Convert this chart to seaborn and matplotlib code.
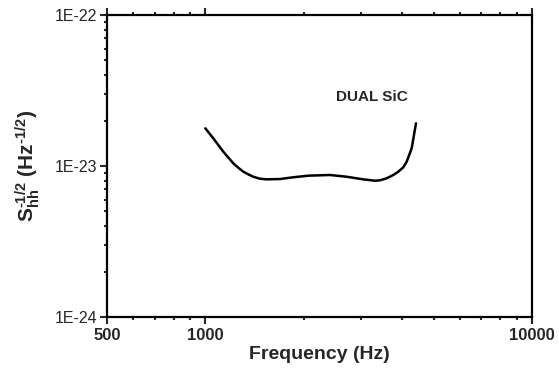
import matplotlib
matplotlib.use("Agg")
import matplotlib.pyplot as plt
import matplotlib.ticker as mticker
import seaborn as sns
import pandas as pd

# values
freq = [1000, 1058, 1135, 1218, 1262, 1307, 1353, 1402, 1470, 1541, 1692,
        1858, 2066, 2408, 2708, 3044, 3306, 3424, 3590, 3761, 3896, 4036,
        4134, 4282, 4352, 4414]
shh = [1.777e-23, 1.525e-23, 1.244e-23, 1.042e-23, 0.974e-23, 0.917e-23,
       0.881e-23, 0.849e-23, 0.824e-23, 0.816e-23, 0.820e-23, 0.842e-23,
       0.863e-23, 0.872e-23, 0.849e-23, 0.816e-23, 0.799e-23, 0.804e-23,
       0.829e-23, 0.872e-23, 0.917e-23, 0.980e-23, 1.068e-23, 1.31e-23,
       1.604e-23, 1.918e-23]
x_major = [500, 1000, 10000]
x_minor = [600, 700, 800, 900, 2000, 3000, 4000, 5000, 6000, 7000, 8000, 9000]
y_major = [1e-24, 1e-23, 1e-22]
y_labels = ["1E-24", "1E-23", "1E-22"]
label_text = "DUAL SiC"

df = pd.DataFrame({"freq": freq, "shh": shh})

sns.set_style("ticks")
plt.rcParams["font.family"] = ["Liberation Sans", "DejaVu Sans"]
plt.rcParams["mathtext.fontset"] = "custom"
plt.rcParams["mathtext.rm"] = "Liberation Sans:bold"
plt.rcParams["mathtext.it"] = "Liberation Sans:italic"
plt.rcParams["mathtext.bf"] = "Liberation Sans:bold"

fig = plt.figure(figsize=(5.59, 3.69), dpi=100)
ax = fig.add_axes([0.1914, 0.1409, 0.7603, 0.8184])

sns.lineplot(data=df, x="freq", y="shh", color="black", linewidth=1.8, ax=ax)

ax.set_xscale("log")
ax.set_yscale("log")
ax.set_xlim(500, 10000)
ax.set_ylim(1e-24, 1e-22)

ax.set_xticks(x_major)
ax.set_xticks(x_minor, minor=True)
ax.xaxis.set_major_formatter(mticker.FixedFormatter([str(v) for v in x_major]))
ax.xaxis.set_minor_formatter(mticker.NullFormatter())
ax.set_yticks(y_major)
ax.set_yticklabels(y_labels)
ax.yaxis.set_minor_locator(mticker.LogLocator(base=10, subs=range(2, 10)))
ax.yaxis.set_minor_formatter(mticker.NullFormatter())

for s in ax.spines.values():
    s.set_linewidth(1.6)
    s.set_color("black")

ax.tick_params(axis="x", which="both", direction="out", top=True, bottom=True, width=1.5)
ax.tick_params(axis="y", which="both", direction="out", left=True, right=False, width=1.5)
ax.tick_params(which="major", length=5)
ax.tick_params(which="minor", length=2.5)
ax.tick_params(axis="x", labelsize=12, pad=3)
ax.tick_params(axis="y", labelsize=11.5, pad=2)
for t in ax.get_xticklabels():
    t.set_fontweight("bold")

ax.set_xlabel("Frequency (Hz)", fontsize=14, fontweight="bold", labelpad=2)
ax.set_ylabel(r"$\mathrm{S}_{\mathrm{hh}}^{\mathit{\text{-}1/2}}$ (Hz$^{\mathit{\text{-}1/2}}$)",
              fontsize=15, fontweight="bold", labelpad=9)

ax.text(3240, 2.86e-23, label_text, fontsize=11, fontweight="bold",
        ha="center", va="center")

fig.savefig("out.png", dpi=100)
